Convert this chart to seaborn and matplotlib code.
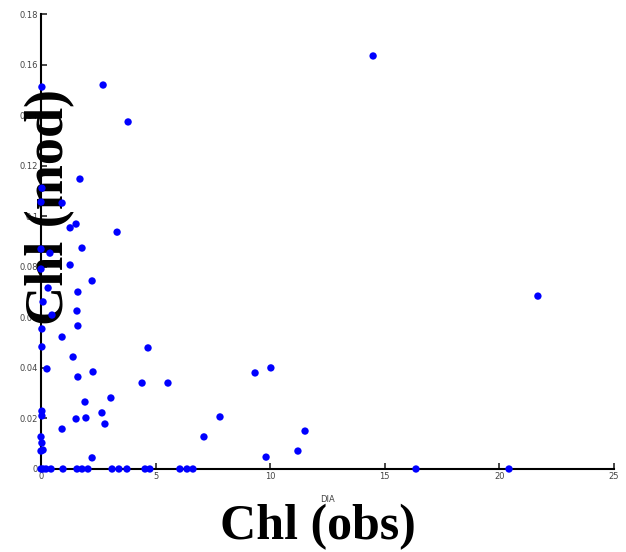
import matplotlib
matplotlib.use("Agg")
import matplotlib.pyplot as plt
import seaborn as sns
import pandas as pd

# Observed chlorophyll (DIA) and modelled chlorophyll
chl_obs = [14.49, 2.71, 0.04, 3.80, 1.70, 0.04, 0.0, 0.92, 1.27, 1.53, 3.32,
           0.0, 0.39, 1.79, 1.27, 0.0, 2.23, 1.61, 0.31, 0.09, 1.57, 0.48,
           1.61, 0.04, 0.92, 0.04, 1.40, 0.26, 1.61, 2.27, 4.41, 5.54, 4.67,
           9.34, 10.03, 1.92, 3.05, 0.04, 0.04, 1.53, 1.96, 2.66, 2.79, 0.92,
           7.81, 7.11, 11.52, 11.21, 9.82, 0.0, 0.04, 0.09, 0.0, 2.23, 21.68,
           0.0, 0.09, 0.22, 0.44, 0.96, 1.57, 1.79, 2.05, 3.10, 3.40, 3.75,
           4.54, 4.75, 6.06, 6.37, 6.63, 16.36, 20.42]
chl_mod = [0.1634, 0.1519, 0.1511, 0.1373, 0.1147, 0.1111, 0.1056, 0.1052,
           0.0954, 0.0969, 0.0937, 0.0870, 0.0854, 0.0874, 0.0807, 0.0791,
           0.0744, 0.0700, 0.0716, 0.0661, 0.0625, 0.0609, 0.0566, 0.0554,
           0.0522, 0.0483, 0.0443, 0.0396, 0.0364, 0.0384, 0.0340, 0.0340,
           0.0479, 0.0380, 0.0400, 0.0265, 0.0281, 0.0229, 0.0210, 0.0198,
           0.0202, 0.0222, 0.0178, 0.0158, 0.0206, 0.0127, 0.0150, 0.0071,
           0.0047, 0.0127, 0.0103, 0.0075, 0.0071, 0.0044, 0.0684,
           0.0, 0.0, 0.0, 0.0, 0.0, 0.0, 0.0, 0.0, 0.0, 0.0, 0.0,
           0.0, 0.0, 0.0, 0.0, 0.0, 0.0, 0.0]

x_ticks = [0, 5, 10, 15, 20, 25]
x_tick_labels = ["0", "5", "10", "15", "20", "25"]
y_ticks = [0, 0.02, 0.04, 0.06, 0.08, 0.10, 0.12, 0.14, 0.16, 0.18]
y_tick_labels = ["0", "0.02", "0.04", "0.06", "0.08", "0.1", "0.12", "0.14", "0.16", "0.18"]

df = pd.DataFrame({"obs": chl_obs, "mod": chl_mod})

sns.set_style("ticks")
plt.rcParams["font.family"] = ["DejaVu Sans"]

fig = plt.figure(figsize=(6.26, 5.52), dpi=100)
ax = fig.add_axes([41 / 626, 1 - 469 / 552, (614 - 41) / 626, (469 - 14) / 552])

sns.scatterplot(data=df, x="obs", y="mod", ax=ax, color="#0000ff", s=28,
                edgecolor="none", linewidth=0, clip_on=False, zorder=3)

ax.set_xlim(0, 25)
ax.set_ylim(0, 0.18)
ax.set_xticks(x_ticks)
ax.set_xticklabels(x_tick_labels)
ax.set_yticks(y_ticks)
ax.set_yticklabels(y_tick_labels)
ax.tick_params(direction="in", length=4, width=1.2, labelsize=6,
               labelcolor="#444444", pad=2)
for s in ["top", "right"]:
    ax.spines[s].set_visible(False)
for s in ["left", "bottom"]:
    ax.spines[s].set_linewidth(1.5)
    ax.spines[s].set_color("black")

ax.set_xlabel("DIA", fontsize=6, color="#444444", labelpad=10)
ax.set_ylabel("")

fig.text(318 / 626, 1 - 527 / 552, "Chl (obs)", fontsize=36, fontweight="bold",
         family="Liberation Serif", color="black", ha="center", va="center")
# large y label sits beneath the data points, as in the reference
ax.text(50 / 626, 1 - 207 / 552, "Chl (mod)", transform=fig.transFigure,
        fontsize=39, fontweight="bold", family="Liberation Serif",
        color="black", ha="center", va="center", rotation=90,
        zorder=1, clip_on=False)

fig.savefig("out.png", dpi=100)
